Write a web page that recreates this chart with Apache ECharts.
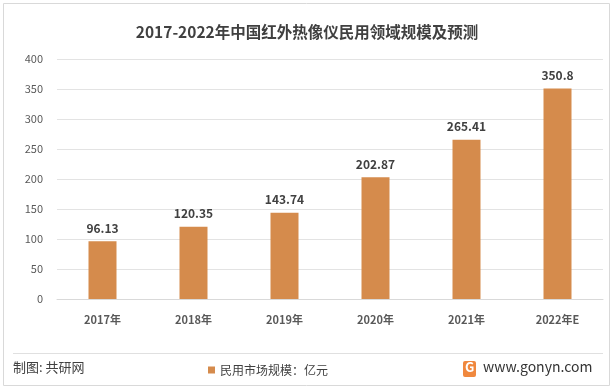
<!DOCTYPE html>
<html><head><meta charset="utf-8">
<script src="https://cdn.jsdelivr.net/npm/echarts@6/dist/echarts.min.js"></script>
<style>html,body{margin:0;padding:0;background:#fff}#c{width:613px;height:390px}</style>
</head><body><div id="c"></div>
<script>
const categories = ['2017年','2018年','2019年','2020年','2021年','2022年E'];
const values = [96.13, 120.35, 143.74, 202.87, 265.41, 350.8];
const seriesName = '民用市场规模：亿元';
const titleText = '2017-2022年中国红外热像仪民用领域规模及预测';
const chart = echarts.init(document.getElementById('c'));
const font = '"Microsoft YaHei","Noto Sans CJK SC",sans-serif';
chart.setOption({
  animation:false,
  title:{text:titleText,left:302,top:19,textAlign:'center',
    textStyle:{fontFamily:font,fontSize:15.5,fontWeight:'bold',color:'#404040'}},
  grid:{left:57,right:10,top:59,bottom:91,containLabel:false},
  xAxis:{type:'category',data:categories,
    axisLine:{lineStyle:{color:'#d9d9d9'}},axisTick:{show:false},
    axisLabel:{color:'#595959',fontFamily:font,fontSize:11,fontWeight:'bold',margin:15}},
  yAxis:{type:'value',min:0,max:400,interval:50,
    axisLine:{show:false},axisTick:{show:false},
    splitLine:{lineStyle:{color:'#e3e3e3'}},
    axisLabel:{color:'#595959',fontFamily:font,fontSize:11,margin:14}},
  legend:{show:true,left:203,top:359,itemWidth:7,itemHeight:7,itemGap:4,icon:'rect',
    textStyle:{fontFamily:font,fontSize:12,color:'#404040'},data:[seriesName]},
  series:[{name:seriesName,type:'bar',data:values,barWidth:28,
    itemStyle:{color:'#D58B4C'},
    label:{show:true,position:'top',distance:7,color:'#404040',fontFamily:font,fontSize:12,fontWeight:'bold'}}],
  graphic:[
    {type:'rect',shape:{x:3.5,y:3.5,width:606,height:382},style:{fill:'none',stroke:'#d9d9d9',lineWidth:1}},
    {type:'line',shape:{x1:13,y1:353.5,x2:603,y2:353.5},style:{stroke:'#e0e0e0',lineWidth:1}},
    {type:'text',left:13,top:361,style:{text:'制图: 共研网',font:'13px '+font,fill:'#404040'}},
    {type:'rect',shape:{x:463,y:361,width:13,height:16,r:2},style:{fill:'#F0883E'}},
    {type:'text',left:465,top:361,style:{text:'G',font:'bold 13px '+font,fill:'#fff'}},
    {type:'text',left:483,top:360,style:{text:'www.gonyn.com',font:'14px '+font,fill:'#333'}}
  ]
});
</script></body></html>
